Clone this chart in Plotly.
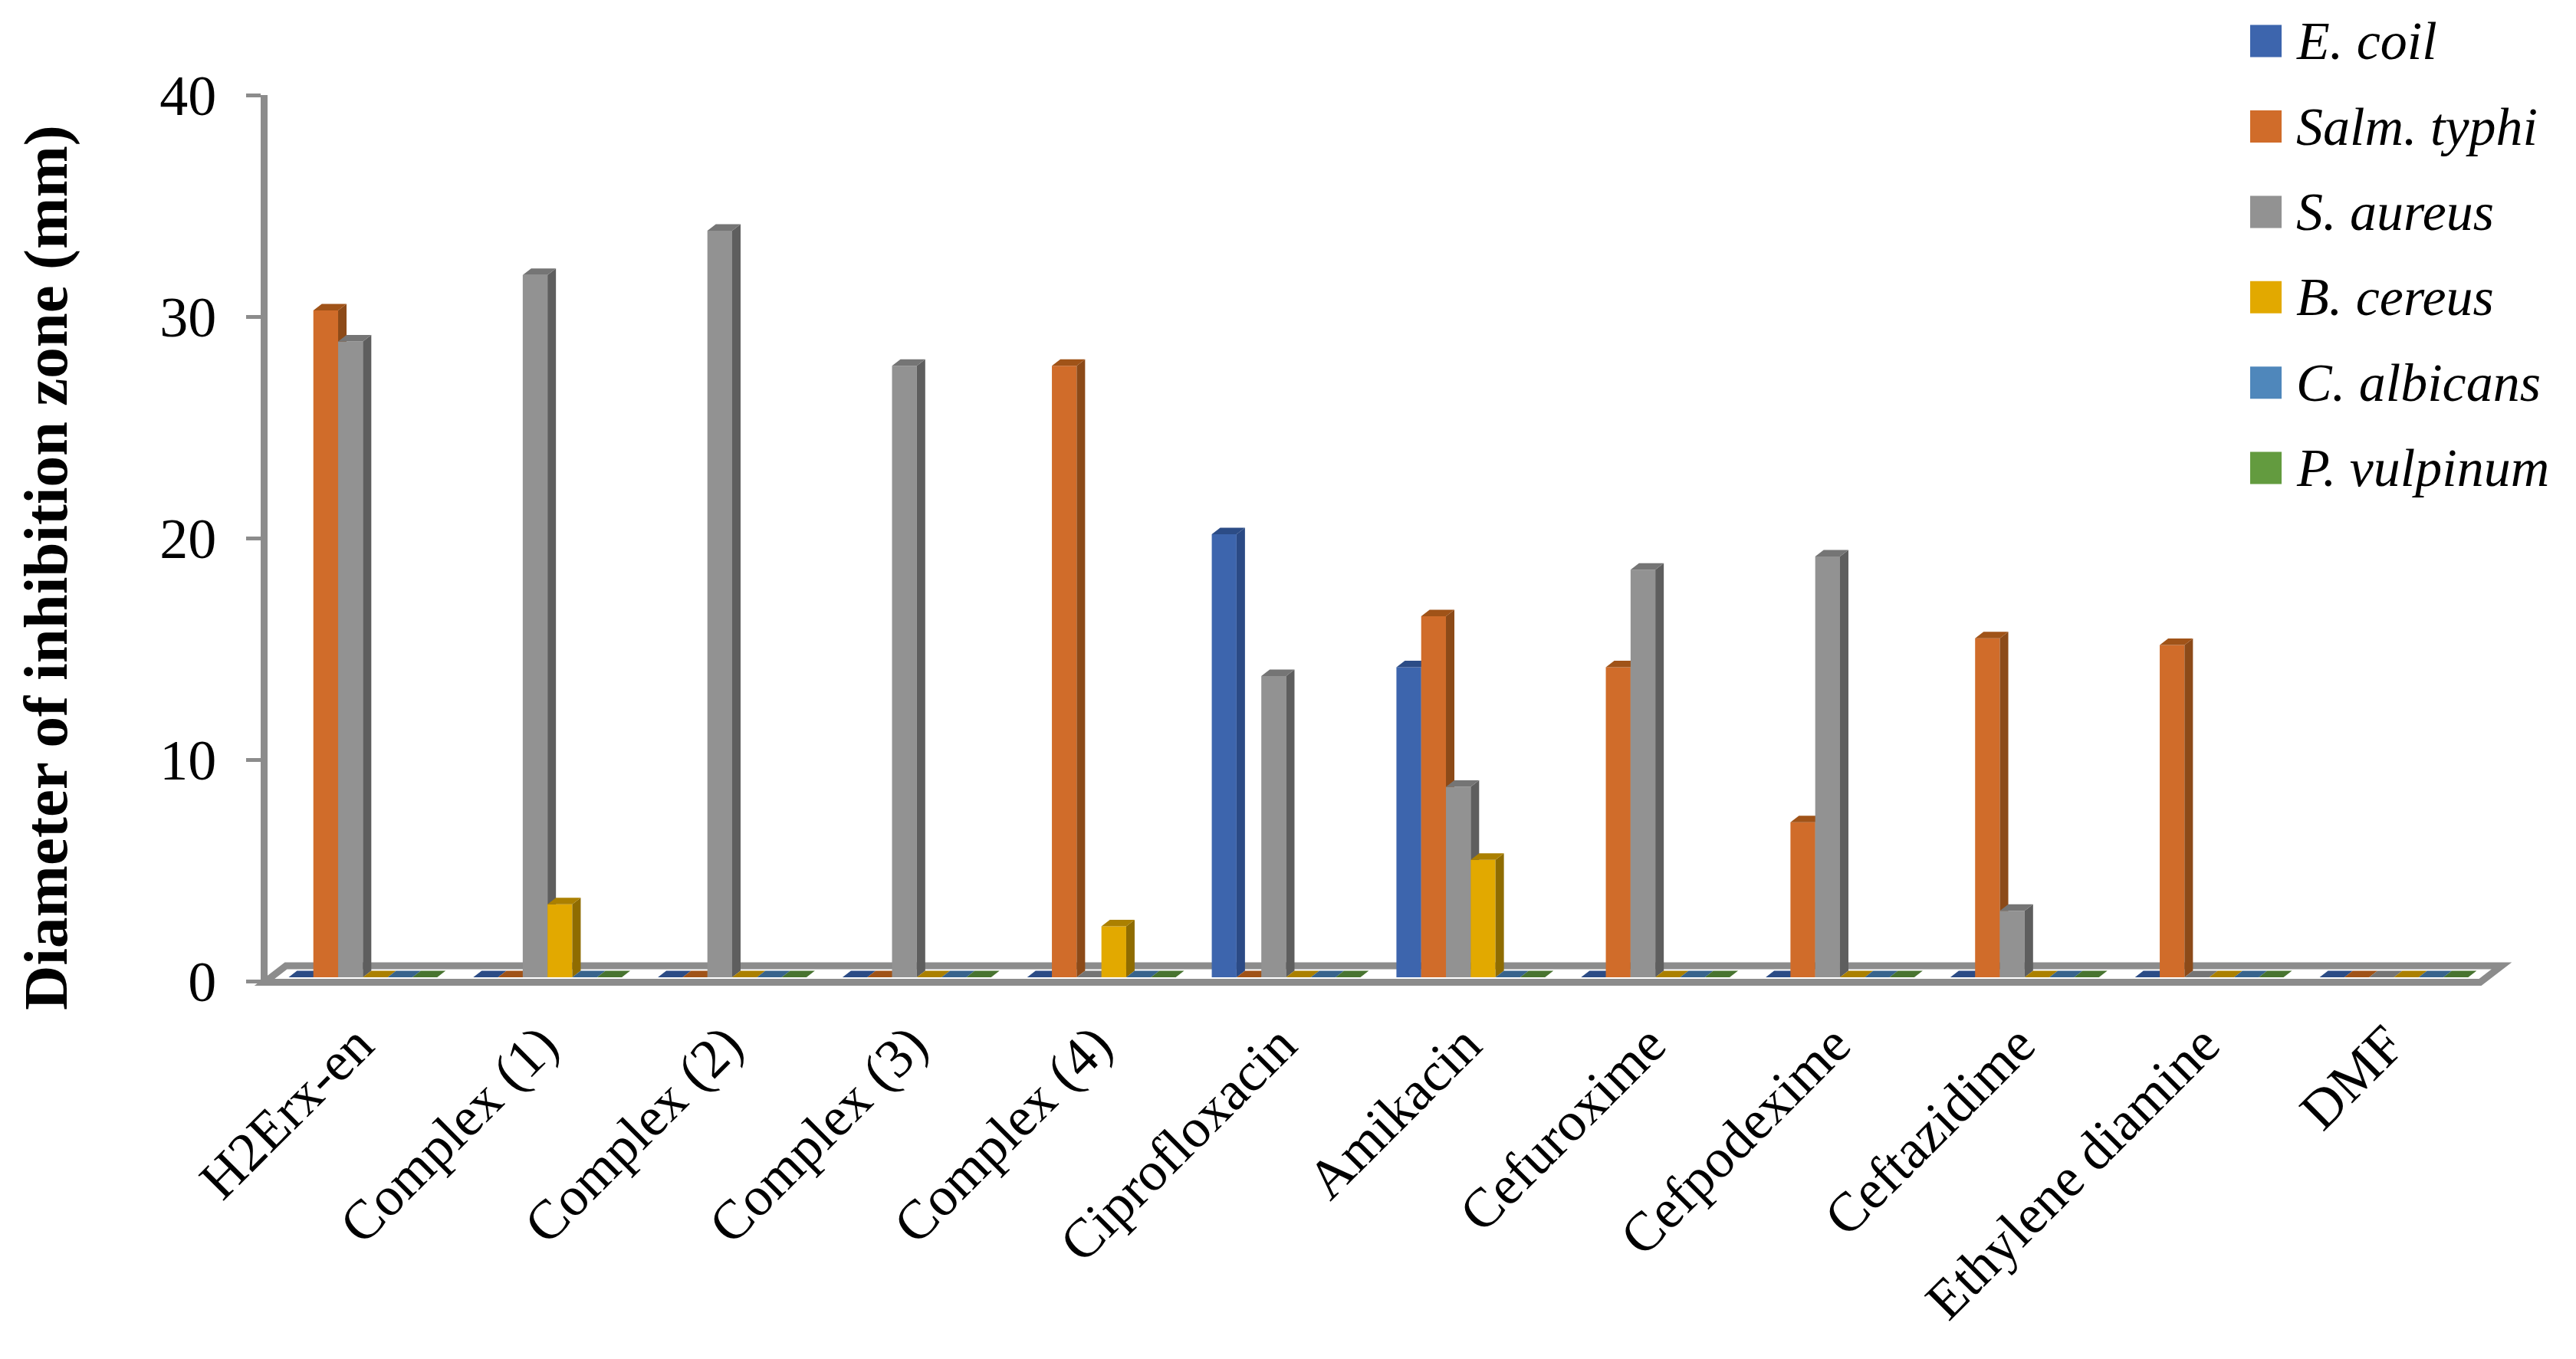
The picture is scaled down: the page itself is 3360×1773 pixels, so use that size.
import plotly.graph_objects as go

categories = ["H2Erx-en", "Complex (1)", "Complex (2)", "Complex (3)", "Complex (4)", "Ciprofloxacin",
              "Amikacin", "Cefuroxime", "Cefpodexime", "Ceftazidime", "Ethylene diamine", "DMF"]
e_coli = [0, 0, 0, 0, 0, 20, 14, 0, 0, 0, 0, 0]
salm_typhi = [30.1, 0, 0, 0, 27.6, 0, 16.3, 14, 7, 15.3, 15, 0]
s_aureus = [28.7, 31.7, 33.7, 27.6, 0, 13.6, 8.6, 18.4, 19, 3, 0, 0]
b_cereus = [0, 3.3, 0, 0, 2.3, 0, 5.3, 0, 0, 0, 0, 0]
c_albicans = [0] * 12
p_vulpinum = [0] * 12

names = ["E. coil", "Salm. typhi", "S. aureus", "B. cereus", "C. albicans", "P. vulpinum"]
values = [e_coli, salm_typhi, s_aureus, b_cereus, c_albicans, p_vulpinum]
front = ["#3d65ad", "#d06c2a", "#929292", "#e2a900", "#4f87bb", "#639b3f"]
side = ["#2b4a85", "#8c4a18", "#5e5e5e", "#8f6c00", "#38648d", "#487430"]
top = ["#2c4c86", "#a05318", "#757575", "#ab8000", "#38648d", "#487430"]

W, H = 3360, 1773
PAGE = 8  # the page body's own margin
AXIS_NUDGE = 4  # the axis line is drawn just left of the plot domain
L, R, T, B = 345 - PAGE + AXIS_NUDGE, 3235 - PAGE, 124 - PAGE, 1280 - PAGE
px_x = (3235 - 345) / 12
px_y = (B - T) / 40
x_range = [-0.5 + AXIS_NUDGE / px_x, 11.5]
FONT = "Liberation Serif"
AXC = "#8c8c8c"

bar_w = 32.3 / px_x
group_off = -89 / px_x
depth_x = 11 / px_x
depth_y = 8.5 / px_y
base_shift = 5 / px_y


def fx(px):
    return (px - PAGE - L) / (R - L)


def fy(px):
    return (B - (px - PAGE)) / (B - T)


fig = go.Figure()
xs = list(range(len(categories)))
for k, (nm, vals) in enumerate(zip(names, values)):
    ax = str(k + 2)
    off = group_off + k * bar_w
    fig.add_trace(go.Bar(x=xs, y=vals, name=nm, width=bar_w, offset=off, marker=dict(color=front[k], line=dict(width=0)),
                         xaxis="x" + ax, yaxis="y" + ax, showlegend=False))
    sx, sy, tx, ty = [], [], [], []
    for i, v in zip(xs, vals):
        xl = i + off
        xr = xl + bar_w
        sx += [xr, xr + depth_x, xr + depth_x, xr, xr, None]
        sy += [0, depth_y, v + depth_y, v, 0, None]
        tx += [xl, xl + depth_x, xr + depth_x, xr, xl, None]
        ty += [v, v + depth_y, v + depth_y, v, v, None]
    for px, py, c in ((sx, sy, side[k]), (tx, ty, top[k])):
        fig.add_trace(go.Scatter(x=px, y=py, mode="lines", fill="toself", fillcolor=c, line=dict(width=0, color=c),
                                 xaxis="x" + ax, yaxis="y" + ax, showlegend=False, hoverinfo="skip"))

# base axes carry a hidden trace so they render
fig.add_trace(go.Scatter(x=xs, y=[0] * 12, mode="markers", marker=dict(opacity=0), showlegend=False, hoverinfo="skip"))

layout = dict(
    width=W, height=H, paper_bgcolor="white", plot_bgcolor="rgba(0,0,0,0)", showlegend=False,
    margin=dict(l=L, r=W - R, t=T, b=H - B, autoexpand=False),
    font=dict(family=FONT, color="black"),
    xaxis=dict(range=x_range, tickmode="array", tickvals=xs, ticktext=categories, tickangle=-45,
               ticks="", showgrid=False, zeroline=False, showline=False, automargin=False,
               tickfont=dict(size=72, family=FONT, color="black"), ticklabelstandoff=25),
    yaxis=dict(range=[0, 40], tickmode="array", tickvals=[0, 10, 20, 30, 40], ticks="outside", ticklen=19, tickwidth=5,
               tickcolor=AXC, showgrid=False, zeroline=False, showline=True, linecolor=AXC, linewidth=9,
               automargin=False, tickfont=dict(size=74, family=FONT, color="black"), ticklabelstandoff=24),
)
for k in range(6):
    ax = str(k + 2)
    layout["xaxis" + ax] = dict(overlaying="x", range=x_range, visible=False)
    layout["yaxis" + ax] = dict(overlaying="y", range=[-base_shift, 40 - base_shift], visible=False)

shapes = [dict(type="path", xref="paper", yref="paper", layer="below",
               path=f"M{fx(345)},{fy(1281.5)} L{fx(3235)},{fy(1281.5)} L{fx(3263)},{fy(1260)} L{fx(373)},{fy(1260)} Z",
               line=dict(color=AXC, width=9), fillcolor="white")]
annotations = [dict(text="<b>Diameter of inhibition zone (mm)</b>", xref="paper", yref="paper",
                    x=fx(60), y=fy(741), textangle=-90, showarrow=False,
                    font=dict(size=81, family=FONT, color="black"), xanchor="center", yanchor="middle")]
for k, nm in enumerate(names):
    cy = 53.6 + k * 111.4
    shapes.append(dict(type="rect", xref="paper", yref="paper", line=dict(width=0), fillcolor=front[k],
                       x0=fx(2935), x1=fx(2976), y0=fy(cy + 21), y1=fy(cy - 21)))
    annotations.append(dict(text=f"<i>{nm}</i>", xref="paper", yref="paper", x=fx(2993),
                            y=fy(cy), showarrow=False, xanchor="left", yanchor="middle",
                            font=dict(size=70, family=FONT, color="black")))
layout["shapes"] = shapes
layout["annotations"] = annotations
fig.update_layout(**layout)
fig.write_html("out.html")
